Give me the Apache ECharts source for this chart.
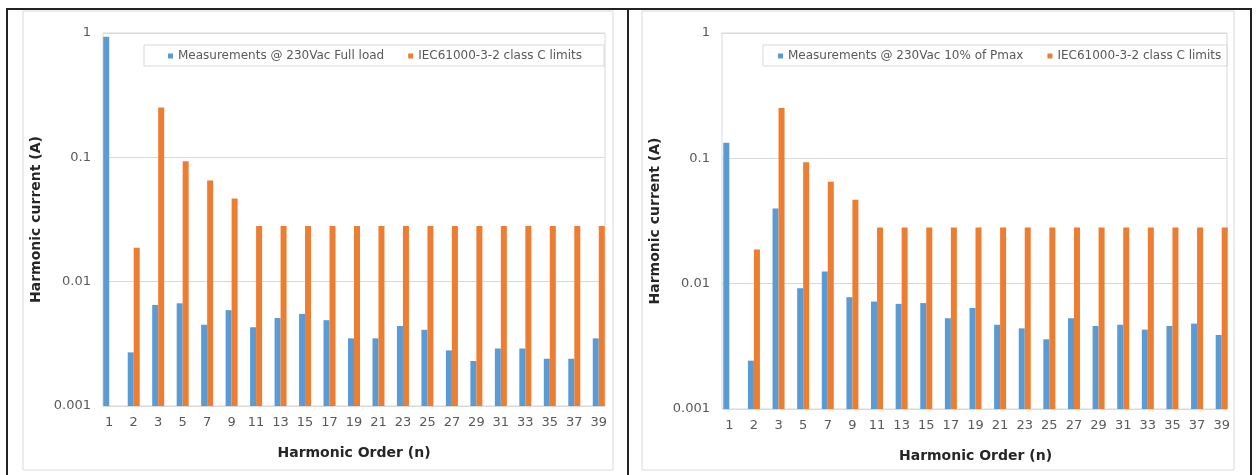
<!DOCTYPE html>
<html>
<head>
<meta charset="utf-8">
<script src="https://cdn.jsdelivr.net/npm/echarts@6/dist/echarts.min.js"></script>
<style>
html,body{margin:0;padding:0;background:#fff;}
#c{width:1258px;height:475px;}
</style>
</head>
<body>
<div id="c"></div>
<script>
// ---- data ----
var categories = ['1','2','3','5','7','9','11','13','15','17','19','21','23','25','27','29','31','33','35','37','39'];
var fullLoad = [0.935, 0.0027, 0.0065, 0.0067, 0.0045, 0.0059, 0.0043, 0.0051, 0.0055, 0.0049, 0.0035, 0.0035, 0.0044, 0.0041, 0.0028, 0.0023, 0.0029, 0.0029, 0.0024, 0.0024, 0.0035];
var pmax10 = [0.133, 0.00243, 0.0397, 0.0092, 0.0125, 0.0078, 0.0072, 0.0069, 0.0070, 0.0053, 0.0064, 0.0047, 0.0044, 0.0036, 0.0053, 0.0046, 0.0047, 0.0043, 0.0046, 0.0048, 0.0039];
var classCLimits = [null, 0.0187, 0.252, 0.093, 0.065, 0.0467, 0.028, 0.028, 0.028, 0.028, 0.028, 0.028, 0.028, 0.028, 0.028, 0.028, 0.028, 0.028, 0.028, 0.028, 0.028];
var yTickLabels = ['0.001', '0.01', '0.1', '1'];
var yMinValue = 0.001;
var nameFull = 'Measurements @ 230Vac Full load';
var namePmax = 'Measurements @ 230Vac 10% of Pmax';
var nameLimit = 'IEC61000-3-2 class C limits';
var xTitle = 'Harmonic Order (n)';
var yTitle = 'Harmonic current (A)';

// decades above the axis minimum (log scale drawn on a linear value axis)
function toLog(arr) {
  return arr.map(function (v) { return v == null ? null : Math.log(v / yMinValue) / Math.LN10; });
}

var FONT = 'DejaVu Sans';
var BLUE = '#5B9BD5', ORANGE = '#ED7D31';
var chart = echarts.init(document.getElementById('c'));

function panel(barLeft, barWidth, gLeft, gWidth, top, height, legendLeft, legendPad) {
  return {
    grids: [
      { left: barLeft, width: barWidth, top: top, height: height, containLabel: false },
      { left: gLeft, width: gWidth, top: top, height: height, containLabel: false,
        show: true, borderColor: '#d9d9d9', borderWidth: 1 }
    ],
    legend: {
      left: legendLeft, top: 45, orient: 'horizontal',
      padding: legendPad, itemGap: 24, itemWidth: 5, itemHeight: 5, icon: 'rect',
      borderColor: '#d9d9d9', borderWidth: 1,
      textStyle: { fontFamily: FONT, fontSize: 12, color: '#595959' }
    }
  };
}

var L = panel(97, 514, 103, 502, 33, 373, 144, [5, 22, 4, 24]);
var R = panel(717, 517, 722, 505, 33, 376, 763, [5, 6, 4, 15]);

function xCat(gridIndex, gap) {
  return {
    type: 'category', gridIndex: gridIndex, data: categories, boundaryGap: true,
    axisLine: { show: false }, axisTick: { show: false },
    axisLabel: { interval: 0, margin: 10, fontFamily: FONT, fontSize: 13, color: '#595959' },
    name: xTitle, nameLocation: 'middle', nameGap: gap,
    nameTextStyle: { fontFamily: FONT, fontSize: 14, fontWeight: 'bold', color: '#262626' }
  };
}
function xHidden(gridIndex) {
  return { type: 'value', gridIndex: gridIndex, min: 0, max: 1, show: false };
}
function yHidden(gridIndex) {
  return { type: 'value', gridIndex: gridIndex, min: 0, max: 3, interval: 1, show: false,
           splitLine: { show: false } };
}
function yShown(gridIndex) {
  return {
    type: 'value', gridIndex: gridIndex, min: 0, max: 3, interval: 1,
    axisLine: { show: false }, axisTick: { show: false },
    splitLine: { show: true, lineStyle: { color: '#d9d9d9', width: 1 } },
    axisLabel: { margin: 12, fontFamily: FONT, fontSize: 13, color: '#595959',
      formatter: function (v) { return yTickLabels[Math.round(v)]; } },
    name: yTitle, nameLocation: 'middle', nameGap: 60, nameRotate: 90,
    nameTextStyle: { fontFamily: FONT, fontSize: 14, fontWeight: 'bold', color: '#262626' }
  };
}

var option = {
  backgroundColor: '#ffffff',
  animation: false,
  grid: [L.grids[0], L.grids[1], R.grids[0], R.grids[1]],
  legend: [
    Object.assign({ data: [nameFull, nameLimit] }, L.legend),
    Object.assign({ data: [namePmax, nameLimit] }, R.legend)
  ],
  xAxis: [xCat(0, 40), xHidden(1), xCat(2, 40), xHidden(3)],
  yAxis: [yHidden(0), yShown(1), yHidden(2), yShown(3)],
  series: [
    { name: nameFull, type: 'bar', xAxisIndex: 0, yAxisIndex: 0, data: toLog(fullLoad),
      barWidth: 6, barGap: '0%', itemStyle: { color: BLUE } },
    { name: nameLimit, type: 'bar', xAxisIndex: 0, yAxisIndex: 0, data: toLog(classCLimits),
      barWidth: 6, barGap: '0%', itemStyle: { color: ORANGE } },
    { name: namePmax, type: 'bar', xAxisIndex: 2, yAxisIndex: 2, data: toLog(pmax10),
      barWidth: 6, barGap: '0%', itemStyle: { color: BLUE } },
    { name: nameLimit, type: 'bar', xAxisIndex: 2, yAxisIndex: 2, data: toLog(classCLimits),
      barWidth: 6, barGap: '0%', itemStyle: { color: ORANGE } }
  ],
  graphic: [
    { type: 'rect', silent: true, z: 100, shape: { x: 23, y: 11, width: 590, height: 459 },
      style: { fill: 'none', stroke: '#d9d9d9', lineWidth: 1 } },
    { type: 'rect', silent: true, z: 100, shape: { x: 642, y: 11, width: 592, height: 459 },
      style: { fill: 'none', stroke: '#d9d9d9', lineWidth: 1 } },
    { type: 'rect', silent: true, z: 101, shape: { x: 7, y: 9, width: 1244, height: 480 },
      style: { fill: 'none', stroke: '#222', lineWidth: 2 } },
    { type: 'line', silent: true, z: 101, shape: { x1: 628, y1: 9, x2: 628, y2: 475 },
      style: { stroke: '#222', lineWidth: 2 } }
  ]
};
chart.setOption(option);
</script>
</body>
</html>
